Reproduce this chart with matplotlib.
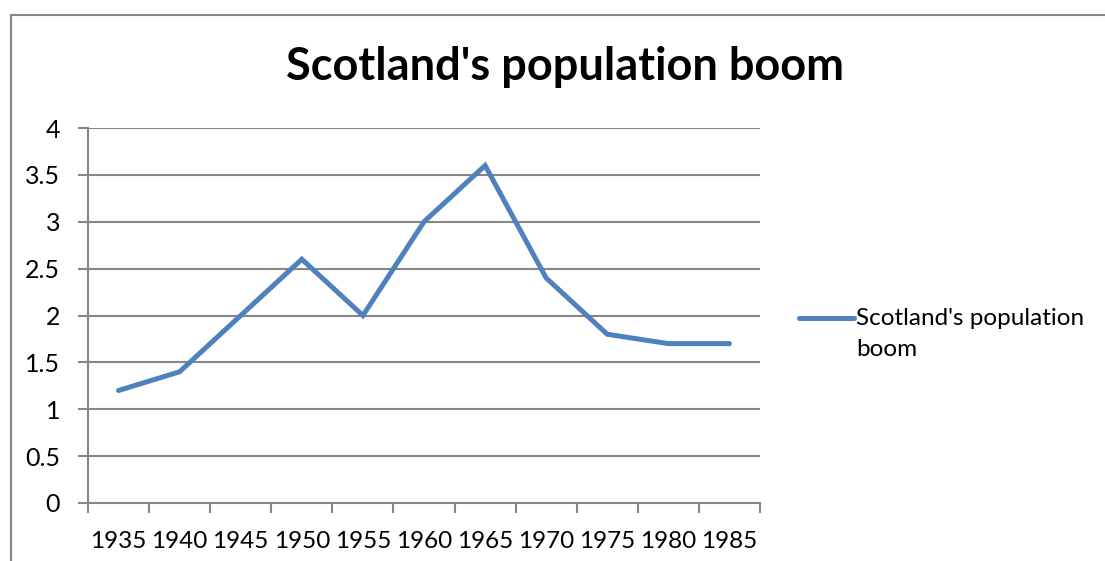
import numpy as np
import matplotlib.pyplot as plt
from matplotlib.patches import Rectangle

years = ['1935', '1940', '1945', '1950', '1955', '1960', '1965', '1970', '1975', '1980', '1985']
population = [1.2, 1.4, 2.0, 2.6, 2.0, 3.0, 3.6, 2.4, 1.8, 1.7, 1.7]
series_name = "Scotland's population\nboom"
chart_title = "Scotland's population boom"

plt.rcParams['font.family'] = ['Lato', 'DejaVu Sans']

fig = plt.figure(figsize=(11.05, 5.61), dpi=100)
ax = fig.add_axes([88/1105, 58/561, 672/1105, 375/561])

grey = '#868686'
x = np.arange(len(years))
ax.plot(x, population, color='#4F81BD', lw=3.6, solid_joinstyle='miter',
        solid_capstyle='round', label=series_name)

ax.set_xlim(-0.5, len(years) - 0.5)
ax.set_ylim(0, 4)
ax.set_yticks(np.arange(0, 4.01, 0.5))
ax.set_yticklabels(['0', '0.5', '1', '1.5', '2', '2.5', '3', '3.5', '4'])
ax.set_xticks(x)
ax.set_xticklabels(years)
ax.set_xticks(np.arange(-0.5, len(years)), minor=True)
ax.tick_params(axis='x', which='major', length=0, pad=20, labelsize=17.5)
ax.tick_params(axis='x', which='minor', length=7, width=1.5, color=grey)
ax.tick_params(axis='y', length=7, width=1.5, color=grey, labelsize=18, pad=13)
ax.grid(axis='y', color=grey, lw=1.5)
ax.set_axisbelow(True)
for s in ['top', 'right']:
    ax.spines[s].set_visible(False)
for s in ['left', 'bottom']:
    ax.spines[s].set_color(grey)
    ax.spines[s].set_linewidth(1.5)

fig.text(565/1105, 1 - 67/561, chart_title, ha='center', va='center',
         fontsize=32.5, fontweight='bold')

leg = ax.legend(loc='upper left', bbox_to_anchor=(799/1105, 1 - 308/561),
                bbox_transform=fig.transFigure, frameon=False, fontsize=17.5,
                handlelength=2.25, handleheight=1.1, handletextpad=0.1,
                borderpad=0, borderaxespad=0)
for t in leg.get_texts():
    t.set_linespacing(1.6)
for col in leg._legend_handle_box.get_children():
    for row in col.get_children():
        row.align = 'top'

fig.patches.append(Rectangle((11/1105, -0.1), 1.2, 1 - 15/561 + 0.1, transform=fig.transFigure,
                             fill=False, edgecolor=grey, lw=1.5))

fig.savefig('out.png', dpi=100)
